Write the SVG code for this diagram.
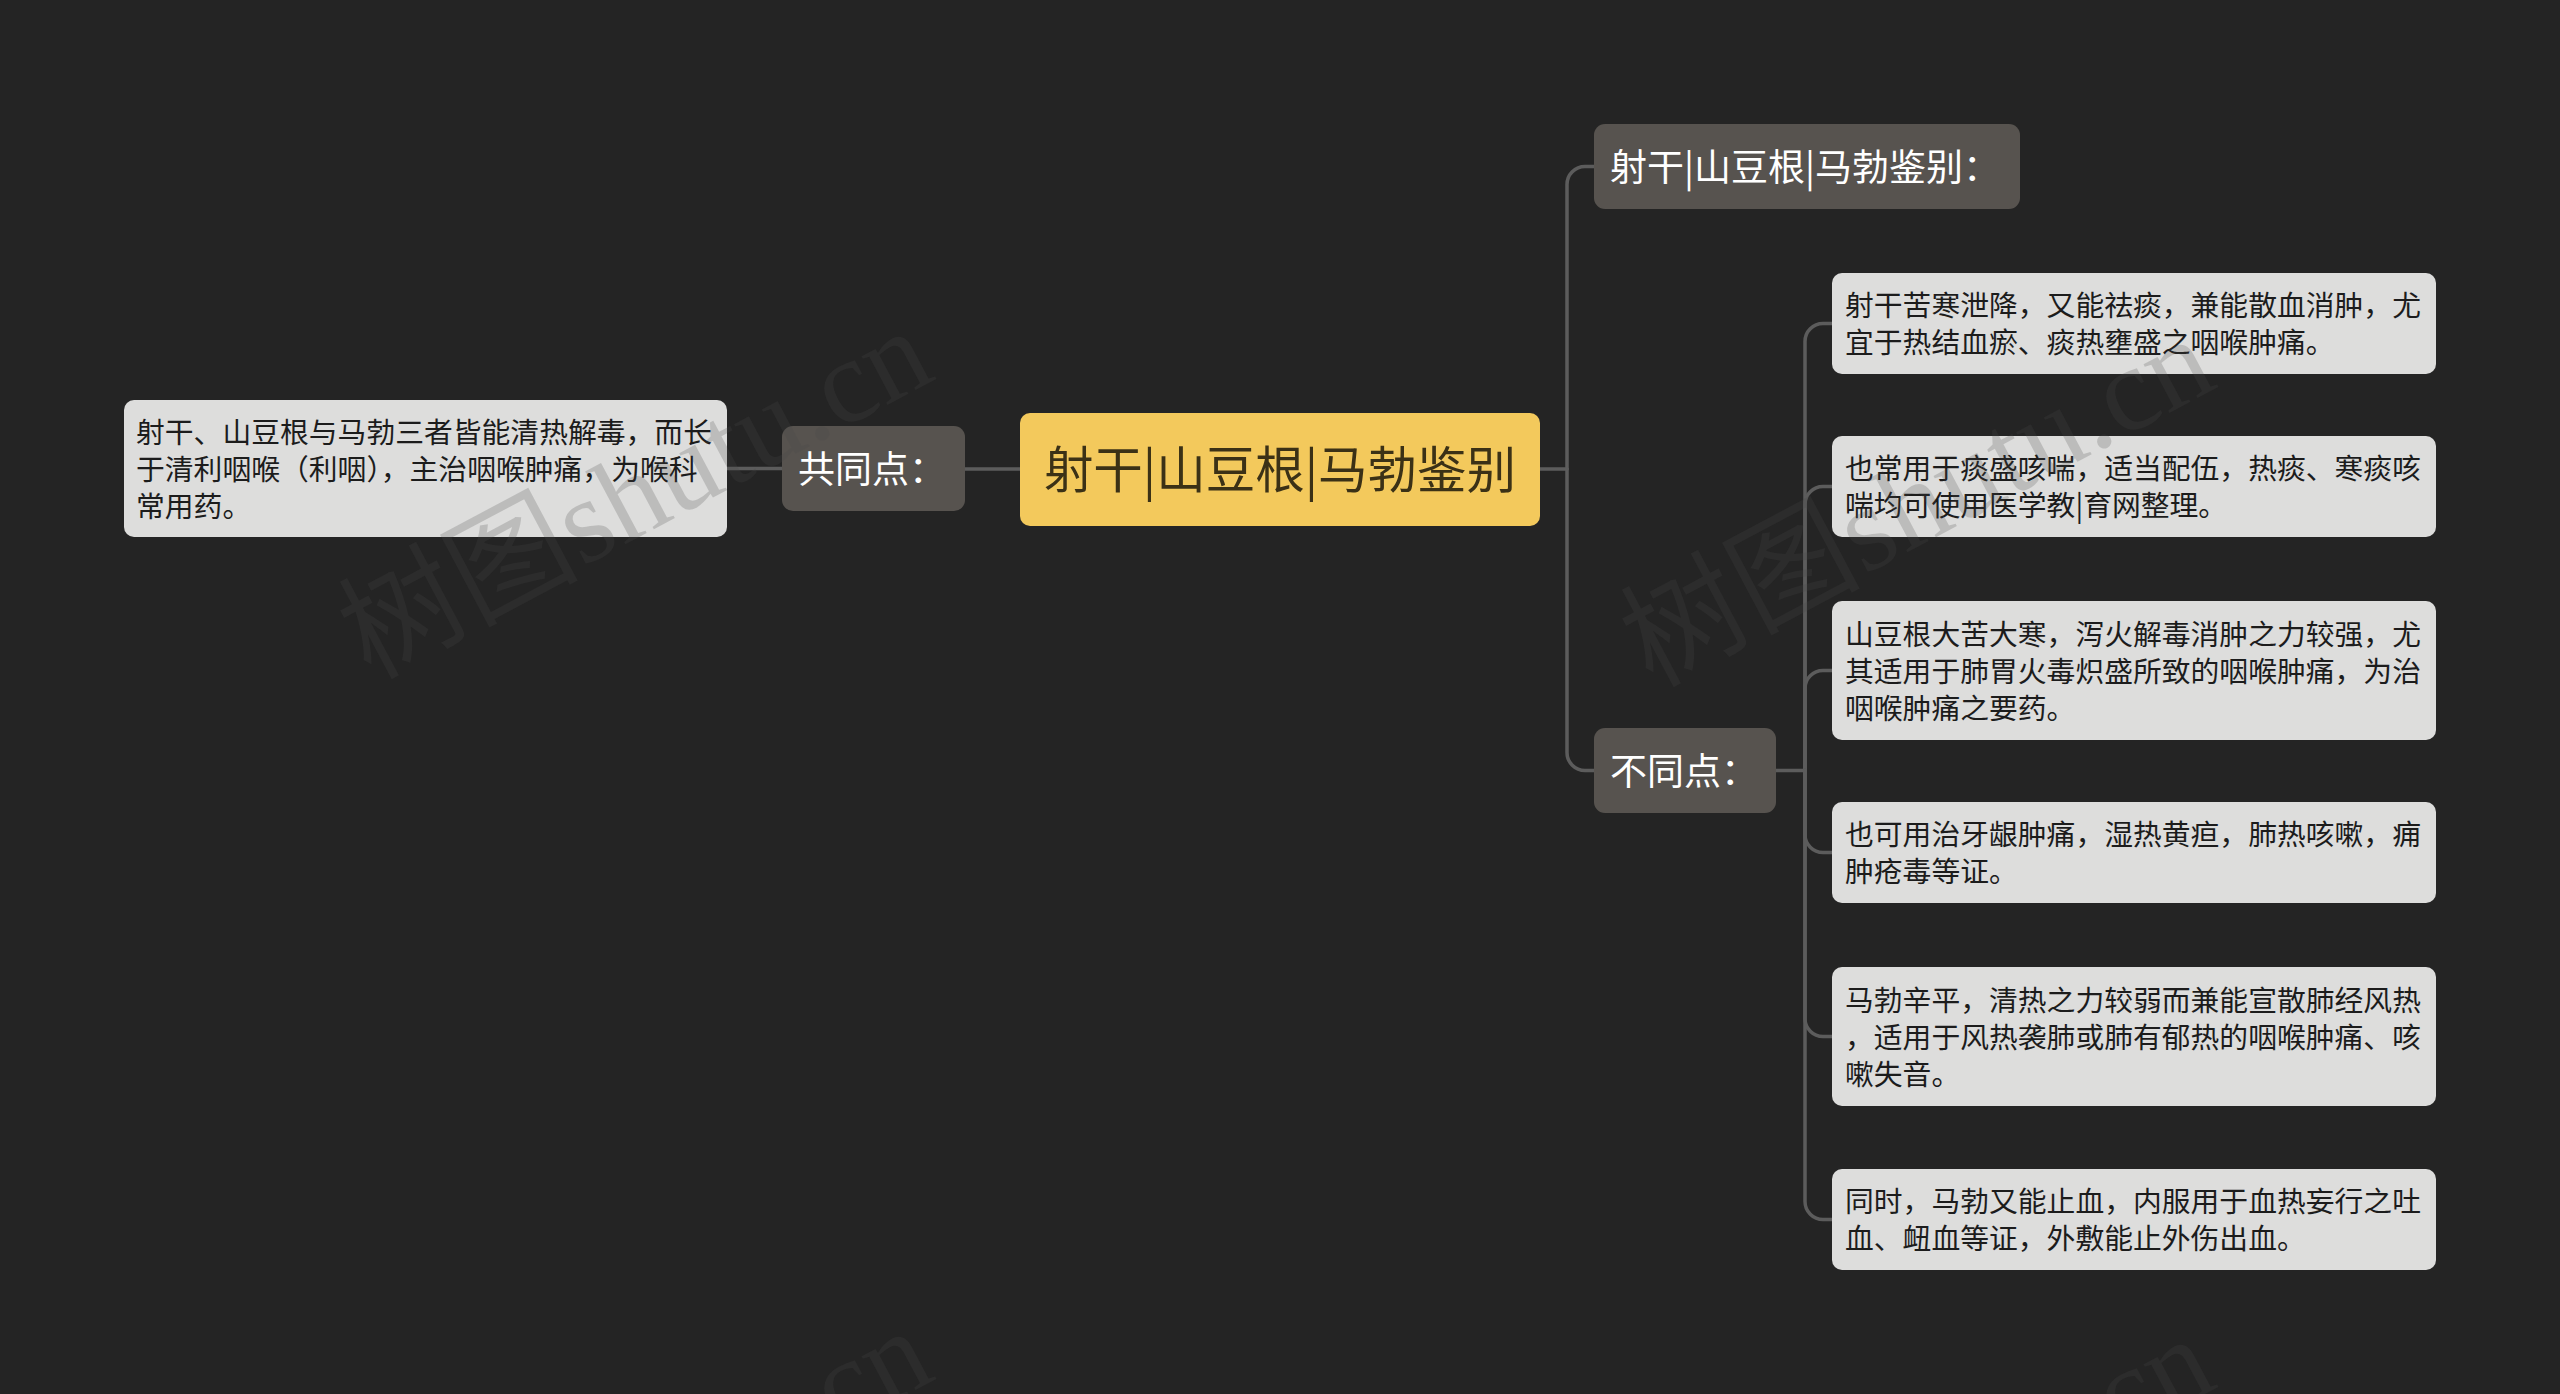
<svg xmlns="http://www.w3.org/2000/svg" width="2560" height="1394" viewBox="0 0 2560 1394">
<style>
.bg{fill:#242424}
.conn{fill:none;stroke:#5c5c5c;stroke-width:3.5;stroke-linecap:round}
.root rect{fill:#f3c95c}
.root text{fill:#3b3116;font-family:"Noto Sans CJK SC","Noto Sans",sans-serif;font-size:49.5px}
.l1 rect{fill:#57534f}
.l1 text{fill:#ffffff;font-family:"Noto Sans CJK SC","Noto Sans",sans-serif;font-size:37px}
.leaf rect{fill:#dddddc}
.leaf text{fill:#1c1c1c;font-family:"Noto Sans CJK SC","Noto Sans",sans-serif;font-size:28.8px}
.wm{fill:#4a4a4a;fill-opacity:0.22;font-family:"Liberation Serif","Noto Sans CJK SC",serif;font-size:120px}
</style>
<rect class="bg" x="0" y="0" width="2560" height="1394"/>

<g id="connectors">
<path class="conn" d="M1020,469 H965"/>
<path class="conn" d="M782,468.5 H727"/>
<path class="conn" d="M1540,469 H1567"/>
<path class="conn" d="M1567,469 V184.5 A18,18 0 0 1 1585,166.5 H1594"/>
<path class="conn" d="M1567,469 V752.5 A18,18 0 0 0 1585,770.5 H1594"/>
<path class="conn" d="M1776,770.5 H1805"/>
<path class="conn" d="M1805,770.5 V341.5 A18,18 0 0 1 1823,323.5 H1832"/>
<path class="conn" d="M1805,770.5 V504.5 A18,18 0 0 1 1823,486.5 H1832"/>
<path class="conn" d="M1805,770.5 V688.5 A18,18 0 0 1 1823,670.5 H1832"/>
<path class="conn" d="M1805,770.5 V834.5 A18,18 0 0 0 1823,852.5 H1832"/>
<path class="conn" d="M1805,770.5 V1018.5 A18,18 0 0 0 1823,1036.5 H1832"/>
<path class="conn" d="M1805,770.5 V1201.5 A18,18 0 0 0 1823,1219.5 H1832"/>
</g>

<g id="root" class="root">
<rect x="1020" y="413" width="520" height="113" rx="10"/>
<text x="1280" y="487.5" text-anchor="middle">射干|山豆根|马勃鉴别</text>
</g>

<g id="common" class="l1">
<rect x="782" y="426" width="183" height="85" rx="11"/>
<text x="798" y="482.5">共同点：</text>
</g>

<g id="common-detail" class="leaf">
<rect x="124" y="400" width="603" height="137" rx="10"/>
<text x="136" y="442.5">射干、山豆根与马勃三者皆能清热解毒，而长</text>
<text x="136" y="479.5">于清利咽喉（利咽），主治咽喉肿痛，为喉科</text>
<text x="136" y="516.5">常用药。</text>
</g>

<g id="diff-title" class="l1">
<rect x="1594" y="124" width="426" height="85" rx="11"/>
<text x="1610" y="180.5">射干|山豆根|马勃鉴别：</text>
</g>

<g id="diff" class="l1">
<rect x="1594" y="728" width="182" height="85" rx="11"/>
<text x="1610" y="784.5">不同点：</text>
</g>

<g id="leaf1" class="leaf">
<rect x="1832" y="273" width="604" height="101" rx="10"/>
<text x="1845" y="316">射干苦寒泄降，又能祛痰，兼能散血消肿，尤</text>
<text x="1845" y="353">宜于热结血瘀、痰热壅盛之咽喉肿痛。</text>
</g>

<g id="leaf2" class="leaf">
<rect x="1832" y="436" width="604" height="101" rx="10"/>
<text x="1845" y="479">也常用于痰盛咳喘，适当配伍，热痰、寒痰咳</text>
<text x="1845" y="516">喘均可使用医学教|育网整理。</text>
</g>

<g id="leaf3" class="leaf">
<rect x="1832" y="601" width="604" height="139" rx="10"/>
<text x="1845" y="645">山豆根大苦大寒，泻火解毒消肿之力较强，尤</text>
<text x="1845" y="682">其适用于肺胃火毒炽盛所致的咽喉肿痛，为治</text>
<text x="1845" y="719">咽喉肿痛之要药。</text>
</g>

<g id="leaf4" class="leaf">
<rect x="1832" y="802" width="604" height="101" rx="10"/>
<text x="1845" y="845">也可用治牙龈肿痛，湿热黄疸，肺热咳嗽，痈</text>
<text x="1845" y="882">肿疮毒等证。</text>
</g>

<g id="leaf5" class="leaf">
<rect x="1832" y="967" width="604" height="139" rx="10"/>
<text x="1845" y="1011">马勃辛平，清热之力较弱而兼能宣散肺经风热</text>
<text x="1845" y="1048">，适用于风热袭肺或肺有郁热的咽喉肿痛、咳</text>
<text x="1845" y="1085">嗽失音。</text>
</g>

<g id="leaf6" class="leaf">
<rect x="1832" y="1169" width="604" height="101" rx="10"/>
<text x="1845" y="1212">同时，马勃又能止血，内服用于血热妄行之吐</text>
<text x="1845" y="1249">血、衄血等证，外敷能止外伤出血。</text>
</g>

<g id="watermark">
<text class="wm" x="370" y="680" transform="rotate(-28 370 680)">树图shutu.cn</text>
<text class="wm" x="1652" y="688" transform="rotate(-28 1652 688)">树图shutu.cn</text>
<text class="wm" x="370" y="1680" transform="rotate(-28 370 1680)">树图shutu.cn</text>
<text class="wm" x="1652" y="1688" transform="rotate(-28 1652 1688)">树图shutu.cn</text>
</g>
</svg>
